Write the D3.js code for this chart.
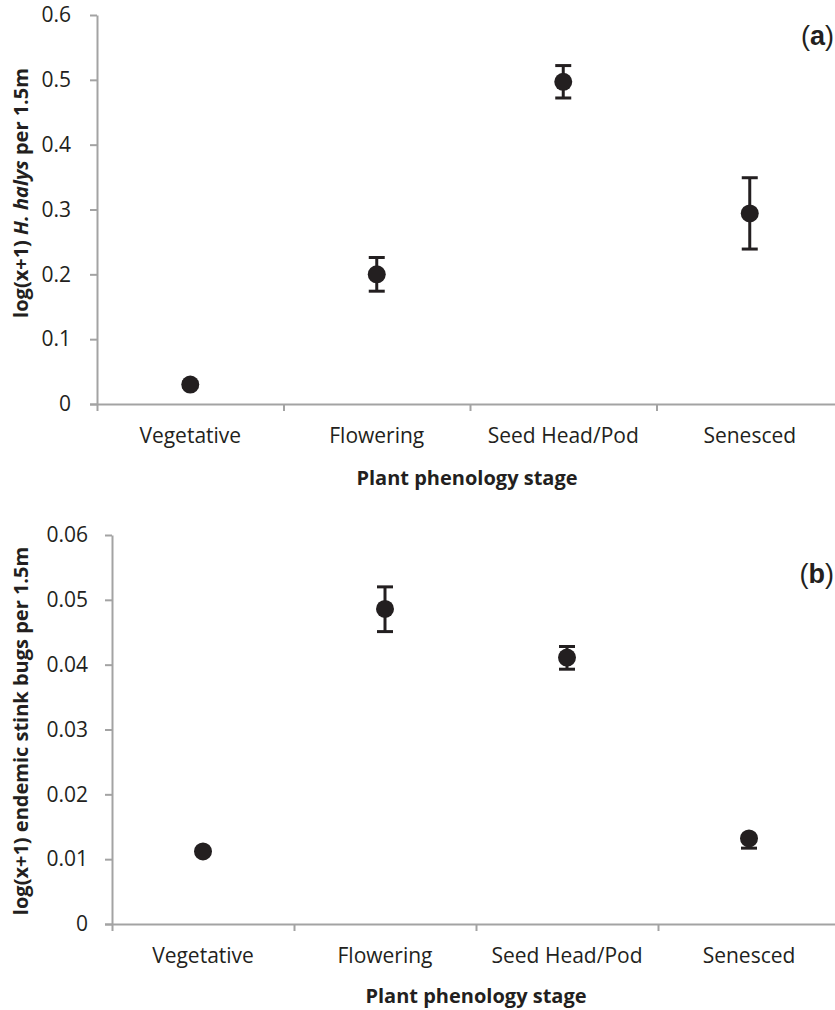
<!DOCTYPE html>
<html>
<head>
<meta charset="utf-8">
<script src="https://cdn.jsdelivr.net/npm/d3@7"></script>
<style>
  html, body { margin: 0; padding: 0; background: #fff; }
  svg { display: block; }
  .tick text { font-family: "Open Sans", sans-serif; font-size: 21px; fill: #231f20; }
</style>
</head>
<body>
<svg id="chart" width="835" height="1010"></svg>
<script>
// ---- Data ----
const categories = ["Vegetative", "Flowering", "Seed Head/Pod", "Senesced"];

const halysMean = [0.030, 0.200, 0.497, 0.294];
const halysErr  = [0.004, 0.026, 0.025, 0.055];

const endemicMean = [0.0112, 0.0486, 0.0411, 0.0132];
const endemicErrUp   = [0.0003, 0.0034, 0.0017, 0.0003];
const endemicErrDown = [0.0003, 0.0035, 0.0018, 0.0015];

const yTicksA = [0, 0.1, 0.2, 0.3, 0.4, 0.5, 0.6];
const yTicksB = [0, 0.01, 0.02, 0.03, 0.04, 0.05, 0.06];

const xTitle = "Plant phenology stage";

const svg = d3.select("#chart");
const axisColor = "#a3a3a3";
const ink = "#231f20";

function panel(opts) {
  const g = svg.append("g");
  const y = d3.scaleLinear().domain(opts.yDomain).range([opts.y0, opts.yTop]);
  const xEdge = d3.scaleLinear().domain([0, categories.length]).range([opts.x0, opts.x0 + categories.length * opts.band]);
  const xBand = d3.scaleBand().domain(categories).range([opts.x0, opts.x0 + categories.length * opts.band]).padding(0);

  // y axis
  const yAxis = d3.axisLeft(y).tickValues(opts.yTicks).tickSize(7).tickSizeOuter(0)
    .tickPadding(opts.yPad).tickFormat(d => d === 0 ? "0" : d3.format(opts.fmt)(d));
  const gy = g.append("g").attr("transform", `translate(${opts.x0},0)`).call(yAxis);
  gy.selectAll("path, line").attr("stroke", axisColor).attr("stroke-width", 2);

  // x axis (edge ticks)
  const gx = g.append("g").attr("transform", `translate(0,${opts.y0})`)
    .call(d3.axisBottom(xEdge).tickValues(d3.range(categories.length + 1)).tickSize(7).tickSizeOuter(0).tickFormat(""));
  gx.selectAll("path, line").attr("stroke", axisColor).attr("stroke-width", 2);
  gx.select(".domain").attr("d", `M${opts.x0 - 7},0.5H835`);

  // category labels
  const gl = g.append("g").attr("transform", `translate(0,${opts.y0})`)
    .call(d3.axisBottom(xBand).tickSize(0).tickPadding(24));
  gl.select(".domain").remove();

  // x title
  g.append("text").attr("x", opts.xTitleX).attr("y", opts.xTitleY)
    .attr("text-anchor", "middle")
    .style("font-family", "'Open Sans', sans-serif").style("font-size", "20px").style("font-weight", "bold")
    .attr("fill", ink).text(xTitle);

  // y title
  const yt = g.append("text")
    .attr("transform", `translate(${opts.yTitleX},${opts.yTitleY}) rotate(-90)`)
    .attr("text-anchor", "middle")
    .style("font-family", "'Open Sans', sans-serif").style("font-size", "20px").style("font-weight", "bold")
    .attr("fill", ink);
  opts.yTitleParts.forEach(p => {
    yt.append("tspan").text(p.t).style("font-style", p.i ? "italic" : "normal");
  });

  // error bars
  const cx = d => xBand(d.cat) + xBand.bandwidth() / 2;
  const data = categories.map((c, i) => ({cat: c, m: opts.mean[i], up: opts.errUp[i], dn: opts.errDown[i]}));
  const eb = g.append("g");
  eb.selectAll("line.v").data(data).join("line")
    .attr("x1", cx).attr("x2", cx)
    .attr("y1", d => y(d.m + d.up)).attr("y2", d => y(d.m - d.dn))
    .attr("stroke", ink).attr("stroke-width", 3);
  eb.selectAll("line.t").data(data).join("line")
    .attr("x1", d => cx(d) - 8).attr("x2", d => cx(d) + 8)
    .attr("y1", d => y(d.m + d.up)).attr("y2", d => y(d.m + d.up))
    .attr("stroke", ink).attr("stroke-width", 3);
  eb.selectAll("line.b").data(data).join("line")
    .attr("x1", d => cx(d) - 8).attr("x2", d => cx(d) + 8)
    .attr("y1", d => y(d.m - d.dn)).attr("y2", d => y(d.m - d.dn))
    .attr("stroke", ink).attr("stroke-width", 3);

  // points
  g.append("g").selectAll("circle").data(data).join("circle")
    .attr("cx", cx).attr("cy", d => y(d.m)).attr("r", 9)
    .attr("fill", ink);

  // panel label
  const pl = g.append("text").attr("x", 834).attr("y", opts.labelY).attr("text-anchor", "end")
    .style("font-family", "'Liberation Sans', Arial, sans-serif").style("font-size", "27px").attr("fill", ink);
  pl.append("tspan").text("(");
  pl.append("tspan").text(opts.label).style("font-weight", "bold");
  pl.append("tspan").text(")");
}

panel({
  x0: 97, band: 186.5, y0: 404, yTop: 15, yDomain: [0, 0.6], yTicks: yTicksA, fmt: ".1f", yPad: 19,
  mean: halysMean, errUp: halysErr, errDown: halysErr,
  xTitleX: 467, xTitleY: 485, yTitleX: 28, yTitleY: 193,
  yTitleParts: [{t: "log(x+1) "}, {t: "H. halys", i: true}, {t: " per 1.5m"}],
  label: "a", labelY: 45
});

panel({
  x0: 112, band: 182, y0: 924, yTop: 535, yDomain: [0, 0.06], yTicks: yTicksB, fmt: ".2f", yPad: 17,
  mean: endemicMean, errUp: endemicErrUp, errDown: endemicErrDown,
  xTitleX: 476, xTitleY: 1003, yTitleX: 28, yTitleY: 731,
  yTitleParts: [{t: "log(x+1) endemic stink bugs per 1.5m"}],
  label: "b", labelY: 583
});
</script>
</body>
</html>
